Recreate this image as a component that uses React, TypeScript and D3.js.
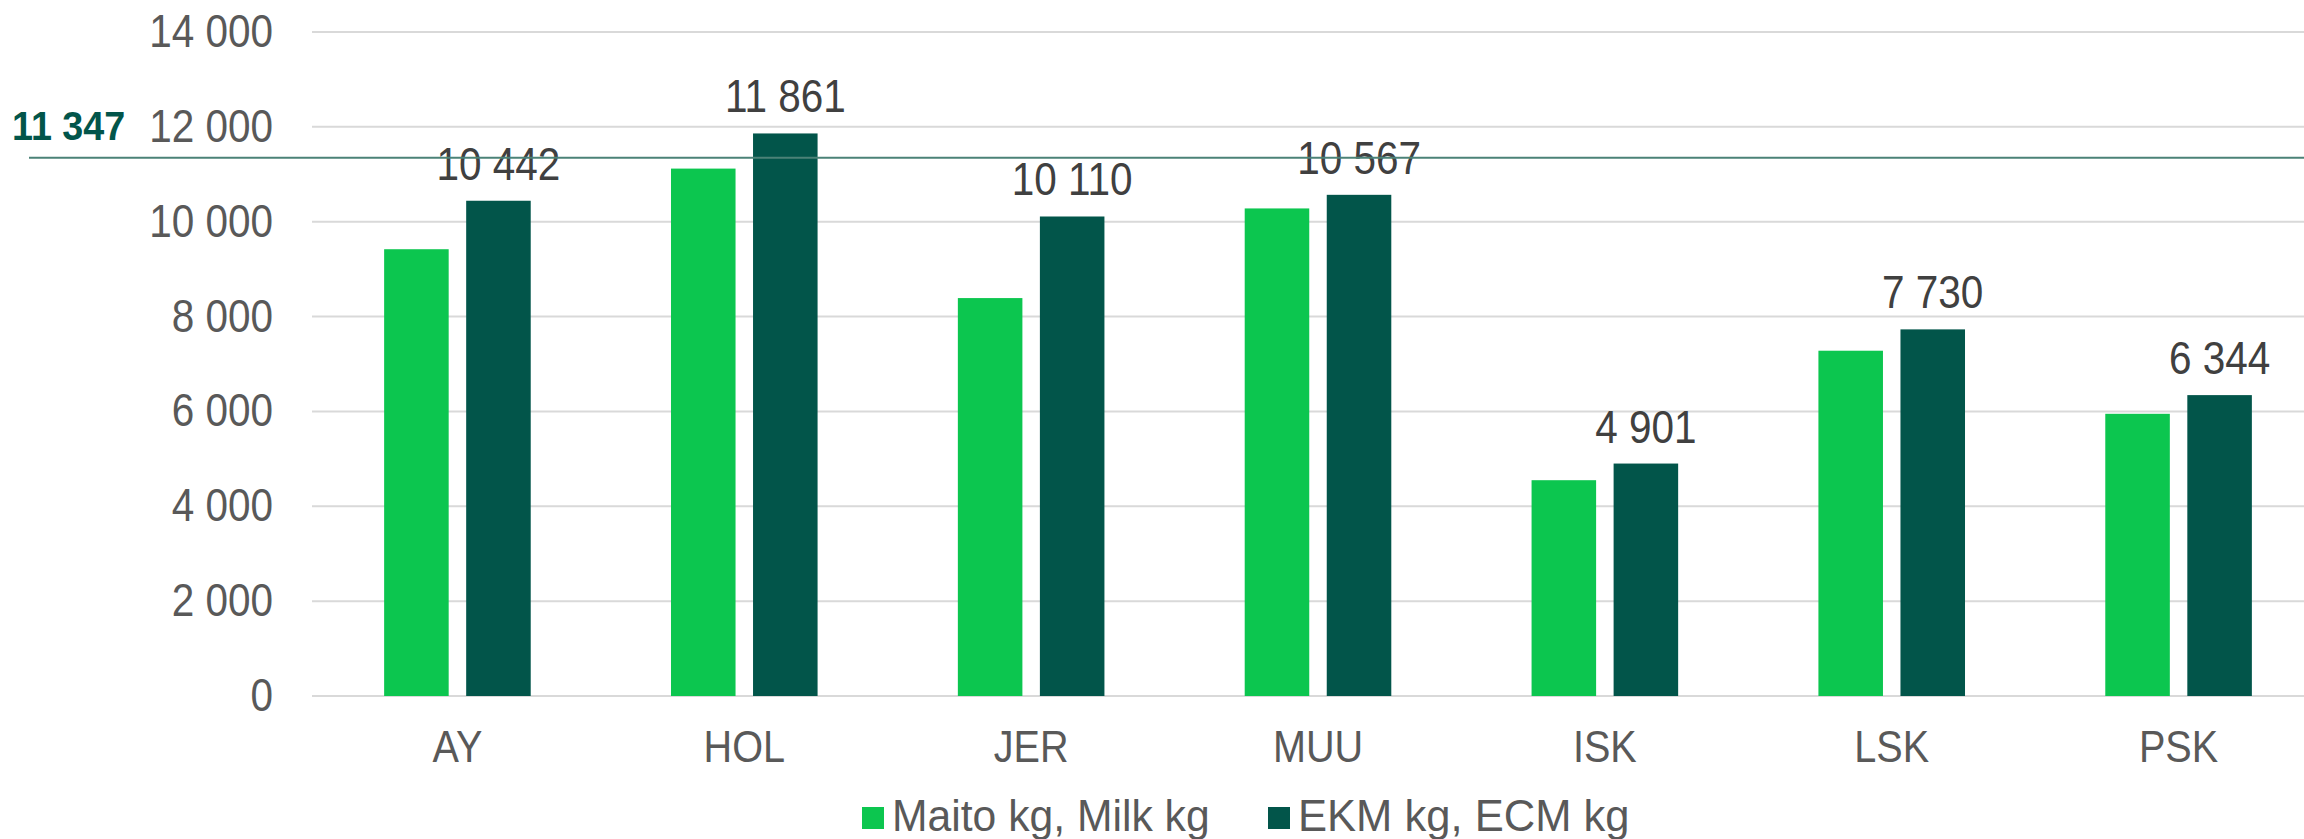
import { useEffect } from 'react';
import * as d3 from 'd3';

const categories = ['AY', 'HOL', 'JER', 'MUU', 'ISK', 'LSK', 'PSK'];
const milkKg = [9420, 11120, 8390, 10280, 4550, 7280, 5950];
const ecmKg = [10442, 11861, 10110, 10567, 4901, 7730, 6344];
const seriesNames = ['Maito kg, Milk kg', 'EKM kg, ECM kg'];
const averageEcm = 11347;
const yTicks = [0, 2000, 4000, 6000, 8000, 10000, 12000, 14000];

const W = 2304;
const H = 839;
const FONT = '"Liberation Sans", Arial, sans-serif';
const GREEN = '#0cc64f';
const DARK = '#02554a';
const SX = 0.88; // the source text is a bit narrow for its height

const fmt = (v: number) => d3.format(',')(v).replace(/,/g, ' ');

// text squeezed horizontally around its own anchor point
function Txt({ x, y, size, anchor = 'start', fill = '#595959', bold = false, sx = SX, children }: any) {
  return (
    <text
      transform={`translate(${x},${y}) scale(${sx},1)`}
      textAnchor={anchor}
      fontSize={size}
      fontWeight={bold ? 'bold' : 'normal'}
      fill={fill}
    >
      {children}
    </text>
  );
}

export default function App() {
  useEffect(() => {
    document.body.style.margin = '0';
  }, []);

  const left = 314;
  const right = 2322;
  const top = 32;
  const bottom = 696;

  const x = d3.scaleBand().domain(categories).range([left, right]);
  const y = d3.scaleLinear().domain([0, 14000]).range([bottom, top]);
  const bw = x.bandwidth();
  const barW = bw * 0.225;
  const gap = bw * 0.061;

  return (
    <svg width={W} height={H} style={{ display: 'block', fontFamily: FONT }}>
      <rect width={W} height={H} fill="#fff" />
      {yTicks.map((t) => (
        <g key={t}>
          <line x1={312} x2={W} y1={y(t)} y2={y(t)} stroke="#d9d9d9" strokeWidth={2} />
          <Txt x={273} y={y(t) + 15} size={46} anchor="end">
            {fmt(t)}
          </Txt>
        </g>
      ))}
      {categories.map((c, i) => {
        const cx = (x(c) ?? 0) + bw / 2;
        const gx = cx - gap / 2 - barW;
        const dx = cx + gap / 2;
        return (
          <g key={c}>
            <rect x={gx} y={y(milkKg[i])} width={barW} height={bottom - y(milkKg[i])} fill={GREEN} />
            <rect x={dx} y={y(ecmKg[i])} width={barW} height={bottom - y(ecmKg[i])} fill={DARK} />
            <Txt x={dx + barW / 2} y={y(ecmKg[i]) - 21} size={46} anchor="middle" fill="#404040">
              {fmt(ecmKg[i])}
            </Txt>
            <Txt x={cx} y={762} size={45} anchor="middle">
              {c}
            </Txt>
          </g>
        );
      })}
      <line x1={29} x2={W} y1={y(averageEcm)} y2={y(averageEcm)} stroke="#4b8277" strokeWidth={2} />
      <Txt x={12} y={140} size={41} bold fill={DARK} sx={0.92}>
        {fmt(averageEcm)}
      </Txt>
      <g>
        <rect x={862} y={807} width={22} height={22} fill={GREEN} />
        <Txt x={892} y={831} size={44} sx={0.97}>
          {seriesNames[0]}
        </Txt>
        <rect x={1268} y={807} width={22} height={22} fill={DARK} />
        <Txt x={1298} y={831} size={44} sx={0.99}>
          {seriesNames[1]}
        </Txt>
      </g>
    </svg>
  );
}
